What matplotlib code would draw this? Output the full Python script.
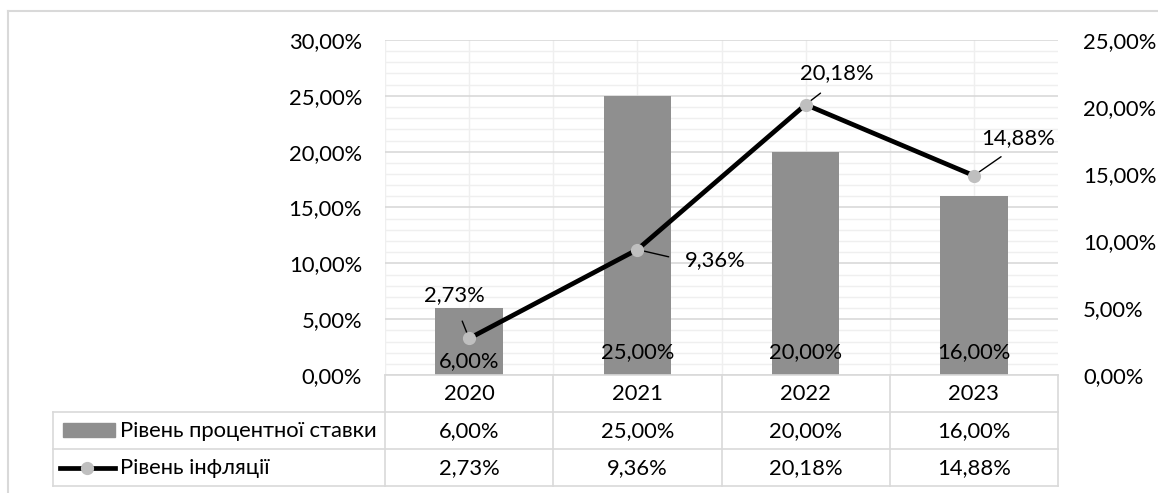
import numpy as np
import matplotlib
matplotlib.use("Agg")
import matplotlib.pyplot as plt
from matplotlib.lines import Line2D
from matplotlib.patches import Rectangle
from matplotlib.ticker import MultipleLocator, FuncFormatter
from matplotlib import transforms

# --- Дані ---
years = ["2020", "2021", "2022", "2023"]
rate = [0.06, 0.25, 0.20, 0.16]          # Рівень процентної ставки (ліва вісь)
inflation = [0.0273, 0.0936, 0.2018, 0.1488]  # Рівень інфляції (права вісь)
rate_name = "Рівень процентної ставки"
infl_name = "Рівень інфляції"

BAR, MARK, GRID, MINOR, TXT = "#8f8f8f", "#bfbfbf", "#d9d9d9", "#efefef", "#000000"
FS = 15.8
plt.rcParams.update({"font.family": ["Lato", "DejaVu Sans"], "font.size": FS, "text.color": TXT})

W, H = 1158, 493


def fx(x):
    return x / W


def fy(y):
    return 1 - y / H


def pct(v, _=None):
    return f"{v * 100:.2f}%".replace(".", ",")


fig = plt.figure(figsize=(W / 100, H / 100), dpi=100)
L, R, T, B = 385, 1058, 40, 375
ax = fig.add_axes([fx(L), fy(B), fx(R - L), (B - T) / H])
x = np.arange(len(years))

# сітка
ax.set_xlim(-0.5, len(years) - 0.5)
ax.set_ylim(0, 0.30)
ax.yaxis.set_major_locator(MultipleLocator(0.05))
ax.yaxis.set_minor_locator(MultipleLocator(0.01))
ax.set_xticks(x - 0.5)
ax.set_xticks(x, minor=True)
ax.grid(axis="y", which="major", color=GRID, lw=1.2, zorder=0)
ax.grid(axis="y", which="minor", color=MINOR, lw=1.0, zorder=0)
ax.grid(axis="x", which="both", color=MINOR, lw=1.0, zorder=0)
ax.set_axisbelow(True)
ax.tick_params(axis="both", which="both", length=0)
ax.tick_params(axis="x", labelbottom=False)
ax.tick_params(axis="y", pad=16.5, labelsize=FS)
ax.yaxis.set_major_formatter(FuncFormatter(pct))
for s in ax.spines.values():
    s.set_visible(False)

ax.bar(x, rate, width=0.4, color=BAR, zorder=2)
bar_off = [14, 23, 23, 23]
for i, v in enumerate(rate):
    ax.annotate(pct(v), (i, 0), xytext=(0, bar_off[i]), textcoords="offset pixels",
                ha="center", va="center", fontsize=FS, zorder=3)

ax2 = ax.twinx()
ax2.set_ylim(0, 0.25)
ax2.yaxis.set_major_locator(MultipleLocator(0.05))
ax2.yaxis.set_major_formatter(FuncFormatter(pct))
ax2.tick_params(axis="y", length=0, pad=18, labelsize=FS)
for s in ax2.spines.values():
    s.set_visible(False)
ax2.plot(x, inflation, color="black", lw=3.4, marker="o", ms=8.5,
         mfc=MARK, mec=MARK, zorder=4)

# підписи лінії з виносками
lab_off = [(-15, 43), (78, -11), (31, 31), (44, 38)]
lab_rel = [(0.53, 0.0), (0.0, 0.5), (0.45, 0.0), (0.45, 0.0)]
lab_shrink = [10, 10, 8, 8]
for i, v in enumerate(inflation):
    ax2.annotate(pct(v), (i, v), xytext=lab_off[i], textcoords="offset pixels",
                 ha="center", va="center", fontsize=FS, zorder=3,
                 arrowprops=dict(arrowstyle="-", color="black", lw=1.0,
                                 relpos=lab_rel[i], shrinkA=lab_shrink[i], shrinkB=0))

# таблиця даних
rows = [B, 412, 449, 486]
tl = dict(color=GRID, lw=1.2)
fig.add_artist(Line2D([fx(L), fx(R)], [fy(B), fy(B)], **tl))
for yy in rows[1:]:
    fig.add_artist(Line2D([fx(53), fx(R)], [fy(yy), fy(yy)], **tl))
fig.add_artist(Line2D([fx(53), fx(53)], [fy(412), fy(486)], **tl))
for i in range(len(years) + 1):
    xb = ax.transData.transform((i - 0.5, 0))[0]
    xf = fig.transFigure.inverted().transform((xb, 0))[0]
    fig.add_artist(Line2D([xf, xf], [fy(B), fy(486)], **tl))

bt = transforms.blended_transform_factory(ax.transData, fig.transFigure)
for i in range(len(years)):
    fig.text(i, fy(394), years[i], transform=bt, ha="center", va="center", fontsize=FS)
    fig.text(i, fy(431), pct(rate[i]), transform=bt, ha="center", va="center", fontsize=FS)
    fig.text(i, fy(468), pct(inflation[i]), transform=bt, ha="center", va="center", fontsize=FS)

# легенда в таблиці
fig.add_artist(Rectangle((fx(63), fy(437)), fx(52), 14 / H, color=BAR))
fig.text(fx(120), fy(431), rate_name, ha="left", va="center", fontsize=FS)
fig.add_artist(Line2D([fx(60), fx(115)], [fy(468), fy(468)], color="black", lw=3.4))
fig.add_artist(Line2D([fx(87)], [fy(468)], marker="o", ms=8.5, mfc=MARK, mec=MARK, lw=0))
fig.text(fx(120), fy(468), infl_name, ha="left", va="center", fontsize=FS)

# рамка діаграми
fig.add_artist(Line2D([fx(8), 1], [fy(11), fy(11)], color=GRID, lw=1.5))
fig.add_artist(Line2D([fx(8), fx(8)], [fy(11), 0], color=GRID, lw=1.5))

fig.savefig("out.png", dpi=100)
